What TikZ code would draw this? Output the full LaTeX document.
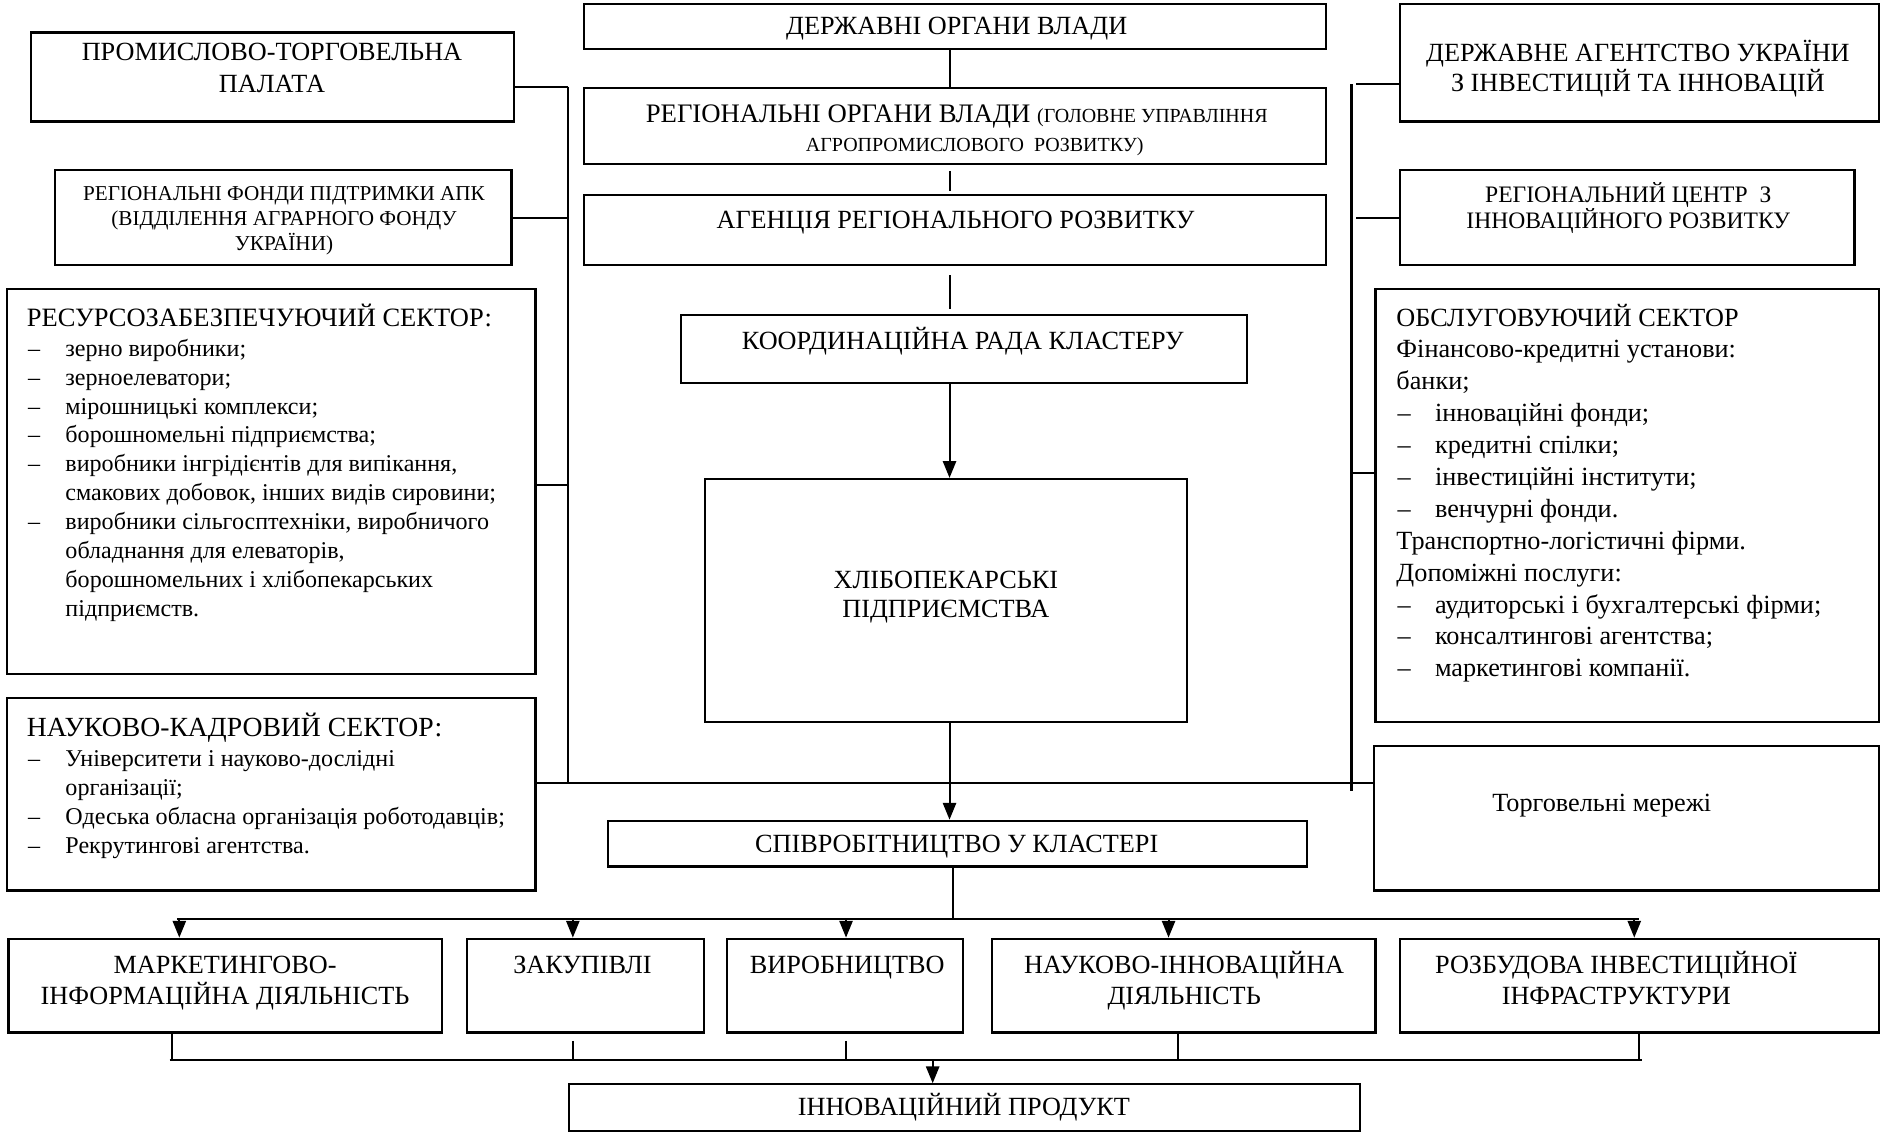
\documentclass[tikz,border=0pt]{standalone}
\usepackage{fontspec}
\setmainfont{Liberation Serif}
\usetikzlibrary{arrows.meta,fit}
\newcommand\fmain{\fontsize{10.9}{12}\selectfont}
\newcommand\fmainb{\fontsize{11.1}{12}\selectfont}
\newcommand\fsm{\fontsize{8.8}{10.25}\selectfont}
\newcommand\fsmr{\fontsize{8.3}{10}\selectfont}
\newcommand\fmid{\fontsize{9.8}{11}\selectfont}
\newcommand\flst{\fontsize{10}{12}\selectfont}
\newcommand\litem[1]{\makebox[16pt][l]{\hspace*{0.5pt}–}#1}
\newcommand\lcont[1]{\hspace*{16pt}#1}
\begin{document}
\begin{tikzpicture}[x=0.5pt,y=-0.5pt,
  bx/.style={draw,line width=0.9pt,inner sep=0pt},
  txt/.style={inner sep=0pt,align=center,font=\fmain},
  lst/.style={inner sep=0pt,align=left,font=\flst},
  ln/.style={line width=0.85pt},
  arw/.style={ln,-{Triangle[length=7pt,width=5.5pt]}}]
\path[use as bounding box,fill=white] (0,0) rectangle (1568,944);

% ---------- boxes ----------
\node[bx,fit={(485,3)(1102,41)}] (dov) {};
\node[bx,fit={(485,73)(1102,136)}] (rov) {};
\node[bx,fit={(485,162)(1102,220)}] (arr) {};
\node[bx,fit={(566,262)(1036,318)}] (krk) {};
\node[bx,fit={(586,398)(986,600)}] (hlib) {};
\node[bx,fit={(505,682)(1086,720)}] (spiv) {};
\node[bx,fit={(7,780)(367,858)}] (mark) {};
\node[bx,fit={(388,780)(585,858)}] (zak) {};
\node[bx,fit={(604,780)(800,858)}] (vyr) {};
\node[bx,fit={(824,780)(1143,858)}] (nauk) {};
\node[bx,fit={(1163,780)(1561,858)}] (rozb) {};
\node[bx,fit={(473,901)(1130,940)}] (inn) {};
\node[bx,fit={(26,27)(427,101)}] (ptp) {};
\node[bx,fit={(46,141)(425,220)}] (rfp) {};
\node[bx,fit={(6,240)(445,560)}] (res) {};
\node[bx,fit={(6,580)(445,740)}] (nks) {};
\node[bx,fit={(1163,3)(1561,101)}] (dai) {};
\node[bx,fit={(1163,141)(1541,220)}] (rcir) {};
\node[bx,fit={(1143,240)(1561,600)}] (obs) {};
\node[bx,fit={(1142,620)(1561,740)}] (torg) {};

% ---------- texts ----------
\node[txt,anchor=base] (tdov) at (795,29) {ДЕРЖАВНІ ОРГАНИ ВЛАДИ};
\node[txt,anchor=base] (trov) at (795,126) {{\fmainb РЕГІОНАЛЬНІ ОРГАНИ ВЛАДИ} {\fsmr(ГОЛОВНЕ УПРАВЛІННЯ}\\{\fsmr\hspace*{15pt}АГРОПРОМИСЛОВОГО\ \ РОЗВИТКУ)}};
\node[txt,anchor=base] (tarr) at (794,190) {АГЕНЦІЯ РЕГІОНАЛЬНОГО РОЗВИТКУ};
\node[txt,anchor=base] (tkrk) at (800,290) {КООРДИНАЦІЙНА РАДА КЛАСТЕРУ};
\node[txt,anchor=base] (thlib) at (786,513) {ХЛІБОПЕКАРСЬКІ\\ПІДПРИЄМСТВА};
\node[txt,anchor=base] (tspiv) at (795,708) {СПІВРОБІТНИЦТВО У КЛАСТЕРІ};
\node[txt,anchor=base] (tmark) at (187,835) {МАРКЕТИНГОВО-\\[1pt]ІНФОРМАЦІЙНА ДІЯЛЬНІСТЬ};
\node[txt,anchor=base] (tzak) at (484,809) {ЗАКУПІВЛІ};
\node[txt,anchor=base] (tvyr) at (704,809) {ВИРОБНИЦТВО};
\node[txt,anchor=base] (tnauk) at (984,835) {НАУКОВО-ІННОВАЦІЙНА\\[1pt]ДІЯЛЬНІСТЬ};
\node[txt,anchor=base] (trozb) at (1343,835) {РОЗБУДОВА ІНВЕСТИЦІЙНОЇ\\[1pt]ІНФРАСТРУКТУРИ};
\node[txt,anchor=base] (tinn) at (801,927) {ІННОВАЦІЙНИЙ ПРОДУКТ};
\node[txt,anchor=base] (tptp) at (226,77) {ПРОМИСЛОВО-ТОРГОВЕЛЬНА\\[1.5pt]ПАЛАТА};
\node[txt,anchor=base,font=\fsm] (trfp) at (236,208) {РЕГІОНАЛЬНІ ФОНДИ ПІДТРИМКИ АПК\\(ВІДДІЛЕННЯ АГРАРНОГО ФОНДУ\\УКРАЇНИ)};
\node[txt,anchor=base] (tdai) at (1361,76) {ДЕРЖАВНЕ АГЕНТСТВО УКРАЇНИ\\[0.5pt]З ІНВЕСТИЦІЙ ТА ІННОВАЦІЙ};
\node[txt,anchor=base,font=\fmid] (trcir) at (1353,190) {РЕГІОНАЛЬНИЙ ЦЕНТР\ \ З\\ІННОВАЦІЙНОГО РОЗВИТКУ};
\node[txt,anchor=base] (ttorg) at (1331,674) {Торговельні мережі};

\node[lst,anchor=north west] (tres) at (22,252) {%
{\fontsize{11}{12}\selectfont РЕСУРСОЗАБЕЗПЕЧУЮЧИЙ СЕКТОР:}\\[0.5pt]
\litem{зерно виробники;}\\
\litem{зерноелеватори;}\\
\litem{мірошницькі комплекси;}\\
\litem{борошномельні підприємства;}\\
\litem{виробники інгрідієнтів для випікання,}\\
\lcont{смакових добовок, інших видів сировини;}\\
\litem{виробники сільгосптехніки, виробничого}\\
\lcont{обладнання для елеваторів,}\\
\lcont{борошномельних і хлібопекарських}\\
\lcont{підприємств.}};

\node[lst,anchor=north west] (tnks) at (22,592) {%
{\fontsize{11.5}{12}\selectfont НАУКОВО-КАДРОВИЙ СЕКТОР:}\\[0.5pt]
\litem{Університети і науково-дослідні}\\
\lcont{організації;}\\
\litem{Одеська обласна організація роботодавців;}\\
\litem{Рекрутингові агентства.}};

\node[lst,anchor=north west,font=\fontsize{10.9}{13.25}\selectfont] (tobs) at (1160,252) {%
ОБСЛУГОВУЮЧИЙ СЕКТОР\\
Фінансово-кредитні установи:\\
банки;\\
\litem{інноваційні фонди;}\\
\litem{кредитні спілки;}\\
\litem{інвестиційні інститути;}\\
\litem{венчурні фонди.}\\
Транспортно-логістичні фірми.\\
Допоміжні послуги:\\
\litem{аудиторські і бухгалтерські фірми;}\\
\litem{консалтингові агентства;}\\
\litem{маркетингові компанії.}};

% ---------- central chain ----------
\coordinate (cx) at (789,0);
\draw[ln] (dov.south -| cx) -- (rov.north -| cx);
\draw[ln,shorten <=2.5pt,shorten >=1pt] (rov.south -| cx) -- (arr.north -| cx);
\draw[ln,shorten <=4pt,shorten >=2pt] (arr.south -| cx) -- (krk.north -| cx);
\draw[arw] (krk.south -| cx) -- (hlib.north -| cx);
\draw[arw] (hlib.south -| cx) -- (spiv.north -| cx);

% ---------- left bus ----------
\coordinate (lbt) at (472,72);
\coordinate (lbb) at (472,651);
\coordinate (lj2) at (472,181);
\coordinate (lj3) at (472,403);
\draw[ln] (lbt) -- (lbb);
\draw[ln] (ptp.east |- lbt) -- (lbt);
\draw[ln] (rfp.east |- lj2) -- (lj2);
\draw[ln] (res.east |- lj3) -- (lj3);

% ---------- right bus ----------
\coordinate (rbt) at (1123,70);
\coordinate (rbb) at (1123,657);
\coordinate (rj1) at (1127,70);
\coordinate (rj2) at (1127,181);
\coordinate (rj3) at (1123,393);
\draw[ln] (rbt) -- (rbb);
\draw[ln] (rj1) -- (dai.west |- rj1);
\draw[ln] (rj2) -- (rcir.west |- rj2);
\draw[ln] (rj3) -- (obs.west |- rj3);

% ---------- main horizontal ----------
\draw[ln] (nks.east |- lbb) -- (torg.west |- lbb);

% ---------- distribution ----------
\coordinate (br) at (792,764);
\coordinate (brl) at (147,764);
\coordinate (brr) at (1362,764);
\draw[ln] (spiv.south -| br) -- (br);
\draw[ln] (brl) -- (brr);
\draw[arw] (149,764) -- (mark.north -| 149,0);
\draw[arw] (476,764) -- (zak.north -| 476,0);
\draw[arw] (703,764) -- (vyr.north -| 703,0);
\draw[arw] (971,764) -- (nauk.north -| 971,0);
\draw[arw] (1358,764) -- (rozb.north -| 1358,0);

% ---------- collection ----------
\coordinate (cl) at (141,881);
\coordinate (cr) at (1364,881);
\coordinate (cm) at (775,881);
\draw[line width=1pt] (cl) -- (cr);
\draw[ln] (mark.south -| 143,0) -- (143,881);
\draw[ln,shorten <=3pt] (zak.south -| 476,0) -- (476,881);
\draw[ln,shorten <=3pt] (vyr.south -| 703,0) -- (703,881);
\draw[ln] (nauk.south -| 979,0) -- (979,881);
\draw[ln] (rozb.south -| 1362,0) -- (1362,882);
\draw[arw] (cm) -- (inn.north -| cm);
\end{tikzpicture}
\end{document}
